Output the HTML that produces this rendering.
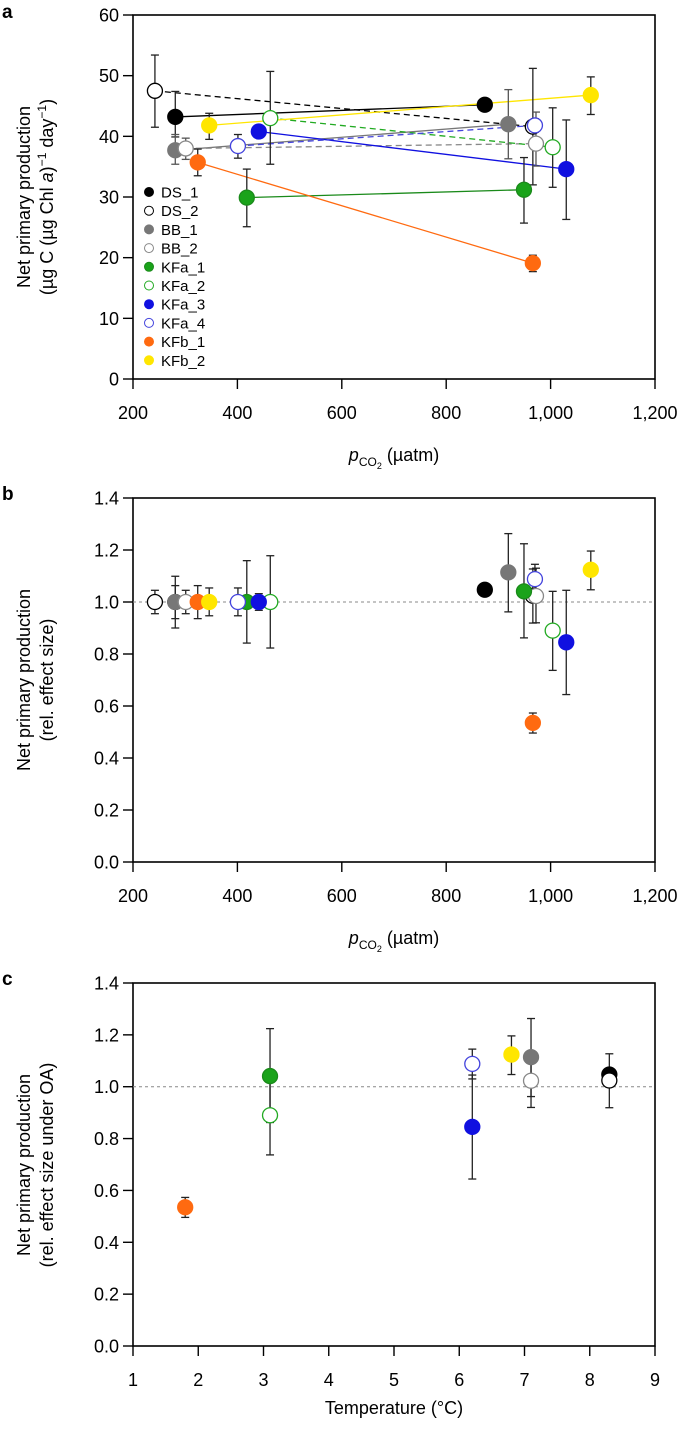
<!DOCTYPE html>
<html><head><meta charset="utf-8"><style>
html,body{margin:0;padding:0;background:#fff;}
svg{display:block;font-family:"Liberation Sans",Arial,sans-serif;}
</style></head><body>
<svg id="fig" width="685" height="1432" viewBox="0 0 685 1432"></svg>
<script>
// ---- Data ----
const seriesNames = ["DS_1","DS_2","BB_1","BB_2","KFa_1","KFa_2","KFa_3","KFa_4","KFb_1","KFb_2"];
const seriesFill = ["#000000","#ffffff","#777777","#ffffff","#1aa31a","#ffffff","#1010e0","#ffffff","#ff6a10","#ffe600"];
const seriesStroke = ["#000000","#000000","#777777","#888888","#1a8a1a","#22aa22","#1010e0","#4444dd","#ff6a10","#ffe600"];
const seriesDash = [false,true,false,true,false,true,false,true,false,false];
// Panel a: pCO2 (control, OA), NPP values, error lo/hi
const aX1 = [281,242,281,301,418,463,441,401,324,346];
const aY1 = [43.2,47.5,37.7,38.0,29.9,43.0,40.8,38.4,35.7,41.8];
const aLo1 = [39.9,41.5,35.4,36.2,25.1,35.4,39.9,36.4,33.5,39.5];
const aHi1 = [47.4,53.4,40.3,39.7,34.6,50.7,41.7,40.3,37.9,43.8];
const aX2 = [874,966,919,972,949,1004,1030,970,966,1077];
const aY2 = [45.2,41.6,42.0,38.8,31.2,38.2,34.6,41.8,19.1,46.8];
const aLo2 = [45.2,32.0,36.3,35.1,25.7,31.6,26.3,40.7,17.7,43.6];
const aHi2 = [45.2,51.2,47.7,44.0,36.5,44.7,42.7,42.9,20.4,49.8];
// Panel b: relative effect size
const bX1 = aX1;
const bLo1 = [0.936,0.955,0.900,0.955,0.842,0.823,0.968,0.947,0.936,0.947];
const bHi1 = [1.063,1.045,1.099,1.045,1.159,1.178,1.032,1.054,1.063,1.054];
const bX2 = aX2;
const bY2 = [1.047,1.024,1.114,1.023,1.041,0.890,0.845,1.088,0.535,1.124];
const bLo2 = [1.047,0.919,0.962,0.920,0.862,0.737,0.644,1.030,0.496,1.047];
const bHi2 = [1.047,1.127,1.263,1.130,1.224,1.041,1.045,1.145,0.573,1.196];
// Panel c: temperature
const cT = [8.3,8.3,7.1,7.1,3.1,3.1,6.2,6.2,1.8,6.8];
const cY = bY2, cLo = bLo2, cHi = bHi2;
const aTicksY = [0,10,20,30,40,50,60];
const pTicksX = [200,400,600,800,1000,1200];
const pTickLabels = ["200","400","600","800","1,000","1,200"];
const rTicksY = [0,0.2,0.4,0.6,0.8,1.0,1.2,1.4];
const tTicksX = [1,2,3,4,5,6,7,8,9];

const NS="http://www.w3.org/2000/svg";
const svg=document.getElementById('fig');
function el(tag,attrs,parent,text){const e=document.createElementNS(NS,tag);for(const k in attrs)e.setAttribute(k,attrs[k]);if(text!==undefined)e.textContent=text;(parent||svg).appendChild(e);return e;}
const L=133,R=655;
function sx(v,min,max){return L+(v-min)/(max-min)*(R-L);}
function makePanel(key,top,bottom,ymin,ymax,yt,ytl,xt,xtl,xmin,xmax){
  const g=el('g',{});
  
  
  const ys=v=>bottom-(v-ymin)/(ymax-ymin)*(bottom-top);
  const xs=v=>sx(v,xmin,xmax);
  const frame=el('rect',{x:L,y:top,width:R-L,height:bottom-top,fill:'none',stroke:'#000','stroke-width':1.6},g);
  
  
  yt.forEach((v,i)=>{
    el('line',{x1:L-10,x2:L,y1:ys(v),y2:ys(v),stroke:'#000','stroke-width':1.4},g);
    const t=el('text',{x:L-14,y:ys(v)+6.5,'text-anchor':'end','font-size':18},g,ytl[i]);
    
    
  });
  xt.forEach((v,i)=>{
    el('line',{x1:xs(v),x2:xs(v),y1:bottom,y2:bottom+10,stroke:'#000','stroke-width':1.4},g);
    const t=el('text',{x:xs(v),y:bottom+40,'text-anchor':'middle','font-size':18},g,xtl[i]);
    
    
  });
  return {g,xs,ys};
}
function errbar(g,x,lo,hi,color){
  if(Math.abs(hi-lo)<1e-6)return;
  el('line',{x1:x,x2:x,y1:lo,y2:hi,stroke:color,'stroke-width':1.3},g);
  el('line',{x1:x-4,x2:x+4,y1:lo,y2:lo,stroke:color,'stroke-width':1.3},g);
  el('line',{x1:x-4,x2:x+4,y1:hi,y2:hi,stroke:color,'stroke-width':1.3},g);
}
function marker(g,x,y,i){
  const c=el('circle',{cx:x,cy:y,r:7.5,fill:seriesFill[i],stroke:seriesStroke[i],'stroke-width':1.3},g);
  
  
}
function ylabel(x1,x2,cy,l1,l2){
  const t1=el('text',{transform:`translate(${x1},${cy}) rotate(-90)`,'text-anchor':'middle','font-size':18},svg,l1);
  
  
  const t2=el('text',{transform:`translate(${x2},${cy}) rotate(-90)`,'text-anchor':'middle','font-size':18},svg);
  
  
  t2.innerHTML=l2;
}
function xlabelP(y){
  const t=el('text',{x:394,y:y,'text-anchor':'middle','font-size':18},svg);
  
  
  t.innerHTML='<tspan font-style="italic">p</tspan><tspan font-size="12" dy="5">CO</tspan><tspan font-size="9" dy="3">2</tspan><tspan dy="-8"> (µatm)</tspan>';
}
function letter(ch,y){
  const t=el('text',{x:2,y:y,'font-size':19,'font-weight':'bold'},svg,ch);
  
  
}
const fmt1=v=>v.toFixed(1);

// Panel a
letter('a',18);
const A=makePanel('a',15,379,0,60,aTicksY,aTicksY.map(String),pTicksX,pTickLabels,200,1200);
seriesNames.forEach((n,i)=>{
  const ln=el('line',{x1:A.xs(aX1[i]),y1:A.ys(aY1[i]),x2:A.xs(aX2[i]),y2:A.ys(aY2[i]),stroke:seriesStroke[i],'stroke-width':1.3},A.g);
  if(seriesDash[i])ln.setAttribute('stroke-dasharray','6,4');
  
  
});
seriesNames.forEach((n,i)=>{
  errbar(A.g,A.xs(aX1[i]),A.ys(aLo1[i]),A.ys(aHi1[i]),i===2||i===3?'#555':'#222');
  errbar(A.g,A.xs(aX2[i]),A.ys(aLo2[i]),A.ys(aHi2[i]),i===2||i===3?'#555':'#222');
});
seriesNames.forEach((n,i)=>{marker(A.g,A.xs(aX1[i]),A.ys(aY1[i]),i);marker(A.g,A.xs(aX2[i]),A.ys(aY2[i]),i);});
// legend
seriesNames.forEach((n,i)=>{
  const y=192+i*18.7;
  const lg=el('g',{},A.g);
  
  
  el('circle',{cx:149,cy:y,r:4.5,fill:seriesFill[i],stroke:seriesStroke[i],'stroke-width':1},lg);
  el('text',{x:161,y:y+5.5,'font-size':15},lg,n);
});
ylabel(30,53,197,'Net primary production','(µg C (µg Chl <tspan font-style="italic">a</tspan>)<tspan font-size="12" dy="-7">−1</tspan><tspan dy="7"> day</tspan><tspan font-size="12" dy="-7">−1</tspan><tspan dy="7">)</tspan>');
xlabelP(461);

// Panel b
letter('b',500);
const B=makePanel('b',498,862,0,1.4,rTicksY,rTicksY.map(fmt1),pTicksX,pTickLabels,200,1200);
el('line',{x1:L,x2:R,y1:B.ys(1),y2:B.ys(1),stroke:'#888','stroke-width':1,'stroke-dasharray':'3,3'},B.g);
seriesNames.forEach((n,i)=>{
  errbar(B.g,B.xs(bX1[i]),B.ys(bLo1[i]),B.ys(bHi1[i]),'#222');
  errbar(B.g,B.xs(bX2[i]),B.ys(bLo2[i]),B.ys(bHi2[i]),'#222');
});
seriesNames.forEach((n,i)=>{marker(B.g,B.xs(bX1[i]),B.ys(1),i);marker(B.g,B.xs(bX2[i]),B.ys(bY2[i]),i);});
ylabel(30,53,680,'Net primary production','(rel. effect size)');
xlabelP(944);

// Panel c
letter('c',985);
const C=makePanel('c',983,1346,0,1.4,rTicksY,rTicksY.map(fmt1),tTicksX,tTicksX.map(String),1,9);
el('line',{x1:L,x2:R,y1:C.ys(1),y2:C.ys(1),stroke:'#888','stroke-width':1,'stroke-dasharray':'3,3'},C.g);
seriesNames.forEach((n,i)=>errbar(C.g,C.xs(cT[i]),C.ys(cLo[i]),C.ys(cHi[i]),'#222'));
seriesNames.forEach((n,i)=>marker(C.g,C.xs(cT[i]),C.ys(cY[i]),i));
ylabel(30,53,1165,'Net primary production','(rel. effect size under OA)');
const tx=el('text',{x:394,y:1414,'text-anchor':'middle','font-size':18},svg,'Temperature (°C)');


</script>
</body></html>
